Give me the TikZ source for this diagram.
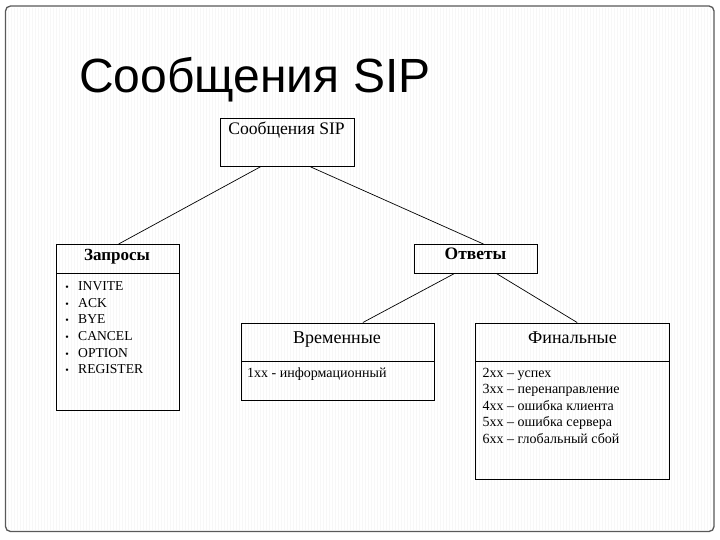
\documentclass[tikz,border=0pt]{standalone}
\usepackage{fontspec}
\setmainfont{Liberation Serif}
\newfontfamily\titlefont{Liberation Sans}
\usetikzlibrary{calc}
\tikzset{
  box/.style={draw=black, line width=0.8pt, inner sep=0pt, anchor=north west},
  conn/.style={draw=black, line width=0.7pt},
  sep/.style={draw=black, line width=0.8pt},
  item/.style={anchor=base west, inner sep=0pt, font=\fontsize{14}{16}\selectfont},
  head/.style={anchor=base, inner sep=0pt},
}
\begin{document}
\begin{tikzpicture}[x=1pt,y=-1pt]
\useasboundingbox (0,0) rectangle (720,540);
\fill[white] (0,0) rectangle (720,540);
% stripes
\foreach \x in {8,11,...,712} {\draw[gray!6, line width=0.7pt] (\x,8) -- (\x,530);}
\draw[black!65, line width=1.3pt, rounded corners=5pt] (5.5,6) rectangle (714,531.5);
% title
\node[anchor=base west, inner sep=0pt, font=\titlefont\fontsize{48}{52}\selectfont] (title) at (79,93) {Сообщения SIP};
% root
\node[box, minimum width=134pt, minimum height=48pt] (root) at (219.5,118) {};
\node[head, font=\fontsize{17.6}{19}\selectfont] (roott) at (286.5,135) {Сообщения SIP};
% Zaprosy
\node[box, minimum width=122.5pt, minimum height=166pt] (req) at (56,244) {};
\draw[sep] (56,273) -- (178.5,273);
\node[head, font=\bfseries\fontsize{17}{19}\selectfont] (reqt) at (117,260) {Запросы};
\foreach \t/\y [count=\i] in {INVITE/290,ACK/307,BYE/323.5,CANCEL/340.5,OPTION/357,REGISTER/373.5} {
  \node[item, font=\fontsize{13.6}{15}\selectfont] (r\i) at (78,\y) {\t};
  \node[anchor=base, inner sep=0pt, font=\fontsize{10}{12}\selectfont] (b\i) at (67,\y) {•};
}
% Otvety
\node[box, minimum width=123pt, minimum height=29pt] (resp) at (414,244) {};
\node[head, font=\bfseries\fontsize{17.5}{19}\selectfont] (respt) at (475.5,259) {Ответы};
% Vremennye
\node[box, minimum width=193pt, minimum height=77pt] (prov) at (241,322.5) {};
\draw[sep] (241,361) -- (434,361);
\node[head, font=\fontsize{18}{20}\selectfont] (provt) at (337,343) {Временные};
\node[item] (p1) at (247,377) {1xx - информационный};
% Finalnye
\node[box, minimum width=193.5pt, minimum height=156pt] (fin) at (475,322.5) {};
\draw[sep] (475,361) -- (668.5,361);
\node[head, font=\fontsize{18}{20}\selectfont] (fint) at (572.5,343) {Финальные};
\foreach \t/\y [count=\i] in {2xx – успех/377,3xx – перенаправление/393.5,4xx – ошибка клиента/410,5xx – ошибка сервера/426.5,6xx – глобальный сбой/443} {
  \node[item] (f\i) at (482.5,\y) {\t};
}
% connectors
\draw[conn] ($(root.south)+(-26.5,0)$) -- ($(req.north)+(1,0)$);
\draw[conn] ($(root.south)+(23.5,0)$) -- ($(resp.north)+(7.5,0)$);
\draw[conn] ($(resp.south)+(-22,0)$) -- ($(prov.north)+(25,0)$);
\draw[conn] ($(resp.south)+(21,0)$) -- ($(fin.north)+(5,0)$);
\end{tikzpicture}
\end{document}
